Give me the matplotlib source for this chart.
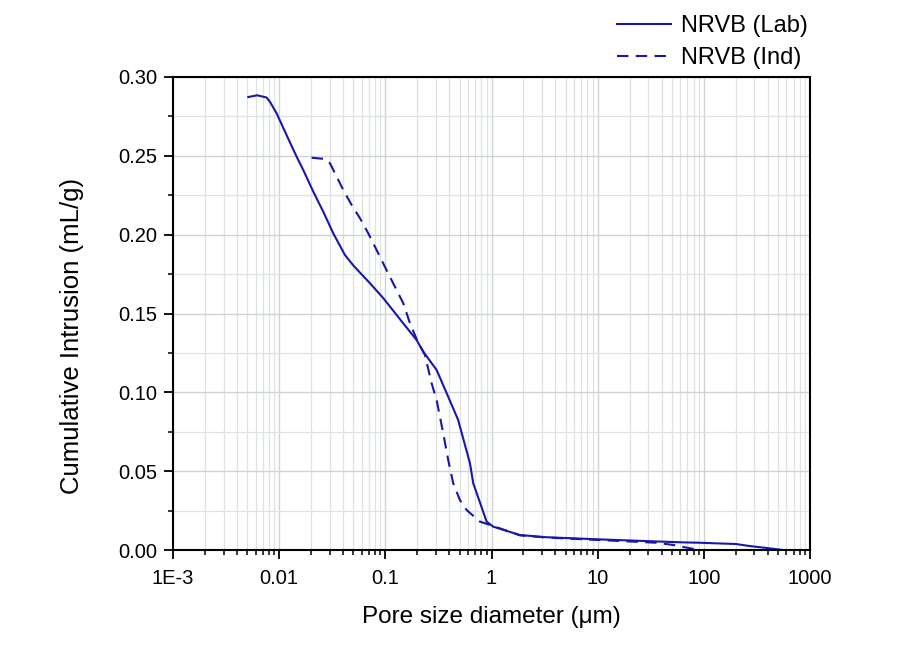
import numpy as np
import matplotlib
matplotlib.use("Agg")
import matplotlib.pyplot as plt
from matplotlib.ticker import LogLocator, FixedLocator, MultipleLocator, NullFormatter, FixedFormatter

plt.rcParams['font.family'] = ['Liberation Sans', 'DejaVu Sans']

# Data (pore diameter in um, cumulative intrusion in mL/g)
lab_d = [0.00512, 0.00622, 0.00760, 0.00818, 0.00946, 0.01135, 0.01462, 0.01687, 0.02094, 0.0260,
         0.0323, 0.03736, 0.04165, 0.0499, 0.0716, 0.0955, 0.1473, 0.197, 0.2275, 0.304, 0.391,
         0.485, 0.627, 0.673, 0.900, 1.038, 1.85, 3.30, 9.77, 59.4, 91.6, 200, 271, 400, 555]
lab_v = [0.2873, 0.2884, 0.2870, 0.2843, 0.2770, 0.2653, 0.2494, 0.2410, 0.2273, 0.2146,
         0.2009, 0.1930, 0.1871, 0.1805, 0.1692, 0.1598, 0.1438, 0.1332, 0.1258, 0.1142, 0.0972,
         0.0825, 0.0550, 0.0423, 0.0180, 0.0148, 0.0095, 0.0081, 0.0068, 0.0049, 0.0046, 0.0038, 0.0025, 0.0012, 0.0]

ind_d = [0.0202, 0.0270, 0.0301, 0.0348, 0.0402, 0.0482, 0.0577, 0.0690, 0.0798, 0.0955,
         0.1104, 0.1276, 0.1476, 0.1706, 0.197, 0.236, 0.273, 0.304, 0.351, 0.391, 0.436,
         0.504, 0.582, 0.778, 0.966, 1.85, 3.30, 10.5, 35.9, 51.4, 73.8, 91.6]
ind_v = [0.2488, 0.2480, 0.2453, 0.2368, 0.2283, 0.2188, 0.2104, 0.2009, 0.1924, 0.1818,
         0.1733, 0.1649, 0.1565, 0.1438, 0.1338, 0.1237, 0.1057, 0.0951, 0.0740, 0.0571, 0.0423,
         0.0317, 0.0254, 0.0180, 0.0159, 0.0093, 0.0079, 0.0063, 0.0046, 0.0032, 0.0011, 0.0]

x_ticks = [1e-3, 1e-2, 1e-1, 1, 10, 100, 1000]
x_tick_labels = ["1E-3", "0.01", "0.1", "1", "10", "100", "1000"]
y_ticks = [0.00, 0.05, 0.10, 0.15, 0.20, 0.25, 0.30]
y_tick_labels = ["0.00", "0.05", "0.10", "0.15", "0.20", "0.25", "0.30"]

color = '#1818a8'

fig = plt.figure(figsize=(9.24, 6.57), dpi=100)
ax = fig.add_axes([173/924, 1-550/657, (810-173)/924, (550-77)/657])

ax.set_xscale('log')
ax.set_xlim(1e-3, 1000)
ax.set_ylim(0, 0.30)

ax.plot(lab_d, lab_v, color=color, lw=1.5, label='NRVB (Lab)')
ax.plot(ind_d, ind_v, color=color, lw=1.5, ls=(0, (5.5, 3.5)), label='NRVB (Ind)')

ax.xaxis.set_major_locator(FixedLocator(x_ticks))
ax.xaxis.set_major_formatter(FixedFormatter(x_tick_labels))
ax.xaxis.set_minor_locator(LogLocator(base=10, subs=np.arange(2, 10), numticks=100))
ax.xaxis.set_minor_formatter(NullFormatter())
ax.yaxis.set_major_locator(FixedLocator(y_ticks))
ax.yaxis.set_major_formatter(FixedFormatter(y_tick_labels))
ax.yaxis.set_minor_locator(MultipleLocator(0.025))

ax.grid(True, which='major', color='#cfd3d3', lw=1.0)
ax.grid(True, which='minor', color='#dfe2e2', lw=0.9)
ax.set_axisbelow(True)

ax.tick_params(which='major', direction='out', length=6.5, width=1.3, labelsize=14.5, colors='black')
ax.tick_params(axis='y', which='major', pad=5)
ax.tick_params(axis='x', which='major', pad=7)
ax.tick_params(which='minor', direction='out', length=3.5, width=1.1)
ax.tick_params(top=False, right=False)
for s in ax.spines.values():
    s.set_linewidth(1.5)
    s.set_color('black')

ax.set_xlabel('Pore size diameter (μm)', fontsize=17.5)
ax.set_ylabel('Cumulative Intrusion (mL/g)', fontsize=18.5)
ax.xaxis.set_label_coords(0.5, -0.118)
ax.yaxis.set_label_coords(-0.14, 0.452)

fig.legend(loc='upper left', bbox_to_anchor=(617/924, 1-15/657), frameon=False,
           fontsize=17, handlelength=2.3, handletextpad=0.4, labelspacing=0.42,
           borderpad=0, borderaxespad=0)

fig.savefig('out.png', dpi=100)
